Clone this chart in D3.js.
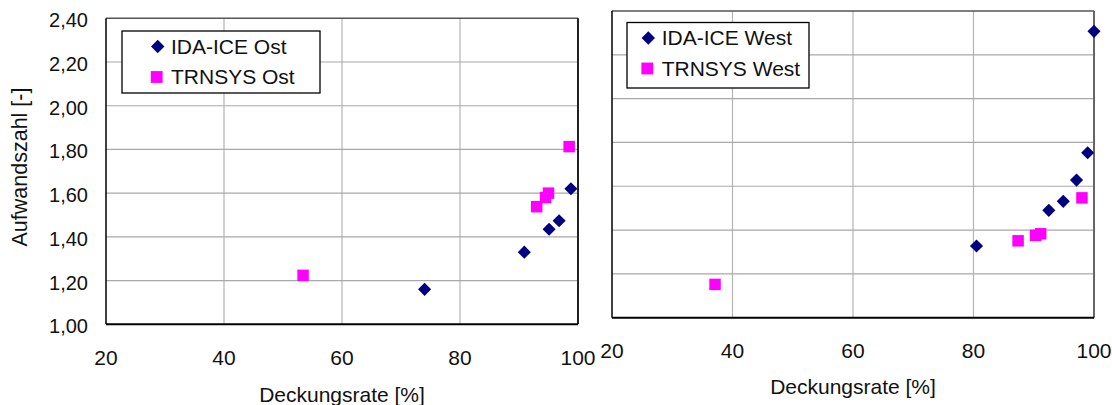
<!DOCTYPE html>
<html>
<head>
<meta charset="utf-8">
<script src="https://cdn.jsdelivr.net/npm/d3@7"></script>
<style>
	body { margin: 0; background: #fff; }
	svg { display: block; font-family: 'Liberation Sans', Arial, sans-serif; }
</style>
</head>
<body>
<div id="chart"></div>
<script>

// tick values
var xTicks = [20, 40, 60, 80, 100];
var yTicks = [1.0, 1.2, 1.4, 1.6, 1.8, 2.0, 2.2, 2.4];

// Ost (left panel): [Deckungsrate %, Aufwandszahl]
var idaOst = [[74.0, 1.16], [90.9, 1.33], [95.1, 1.435], [96.8, 1.474], [98.8, 1.62]];
var trnOst = [[53.4, 1.224], [93.0, 1.538], [94.5, 1.58], [95.0, 1.60], [98.5, 1.813]];

// West (right panel)
var idaWest = [[80.5, 1.327], [92.5, 1.49], [94.9, 1.531], [97.1, 1.628], [98.95, 1.753], [100, 2.307]];
var trnWest = [[37.1, 1.152], [87.4, 1.351], [90.3, 1.376], [91.15, 1.383], [98.0, 1.547]];

var seriesNames = {
	ost: ['IDA-ICE Ost', 'TRNSYS Ost'],
	west: ['IDA-ICE West', 'TRNSYS West']
};

var colors = { ida: '#000080', trn: '#ff00ff' };

var svg = d3.select('#chart').append('svg')
	.attr('width', 1112)
	.attr('height', 405);

var fmt = function (v) { return d3.format('.2f')(v).replace('.', ','); };

var diamond = d3.symbol().type(d3.symbolSquare).size(86);
var square = d3.symbol().type(d3.symbolSquare).size(132);

function drawPanel(cfg) {

	var x = d3.scaleLinear().domain([20, 100]).range([cfg.left, cfg.right]);
	var y = d3.scaleLinear().domain([1.0, 2.4]).range([cfg.bottom, cfg.top]);

	var g = svg.append('g');

	// grid
	g.selectAll('.vgrid')
		.data(xTicks.slice(1, -1))
		.enter().append('line')
		.attr('x1', function (d) { return x(d); })
		.attr('x2', function (d) { return x(d); })
		.attr('y1', cfg.top)
		.attr('y2', cfg.bottom)
		.attr('stroke', '#b4b4b4')
		.attr('stroke-width', 1.2);

	g.selectAll('.hgrid')
		.data(yTicks.slice(1, -1))
		.enter().append('line')
		.attr('x1', cfg.left)
		.attr('x2', cfg.right)
		.attr('y1', function (d) { return y(d); })
		.attr('y2', function (d) { return y(d); })
		.attr('stroke', '#a8a8a8')
		.attr('stroke-width', 1.2);

	// frame
	g.append('line')
		.attr('x1', cfg.left).attr('x2', cfg.right)
		.attr('y1', cfg.top).attr('y2', cfg.top)
		.attr('stroke', '#555').attr('stroke-width', 1.5);
	g.append('line')
		.attr('x1', cfg.right).attr('x2', cfg.right)
		.attr('y1', cfg.top).attr('y2', cfg.bottom)
		.attr('stroke', cfg.rightColor).attr('stroke-width', 2);
	g.append('line')
		.attr('x1', cfg.left).attr('x2', cfg.left)
		.attr('y1', cfg.top).attr('y2', cfg.bottom)
		.attr('stroke', '#000').attr('stroke-width', 1.5);
	g.append('line')
		.attr('x1', cfg.left).attr('x2', cfg.right)
		.attr('y1', cfg.bottom).attr('y2', cfg.bottom)
		.attr('stroke', '#000').attr('stroke-width', 2);

	// x tick labels
	g.selectAll('.xlab')
		.data(xTicks)
		.enter().append('text')
		.attr('x', function (d) { return x(d); })
		.attr('y', cfg.xLabelY)
		.attr('text-anchor', 'middle')
		.attr('font-size', 21)
		.attr('fill', '#111')
		.text(function (d) { return d; });

	// y tick labels (left panel only)
	if (cfg.yLabels) {
		g.selectAll('.ylab')
			.data(yTicks)
			.enter().append('text')
			.attr('x', 88)
			.attr('y', function (d) { return y(d) + 2; })
			.attr('dy', '0.35em')
			.attr('text-anchor', 'end')
			.attr('font-size', 20)
			.attr('fill', '#111')
			.text(fmt);

		g.append('text')
			.attr('transform', 'translate(27,' + 167 + ') rotate(-90)')
			.attr('text-anchor', 'middle')
			.attr('font-size', 21.5)
			.attr('fill', '#111')
			.text('Aufwandszahl [-]');
	}

	// x axis title
	g.append('text')
		.attr('x', (cfg.left + cfg.right) / 2)
		.attr('y', cfg.titleY)
		.attr('text-anchor', 'middle')
		.attr('font-size', 21)
		.attr('fill', '#111')
		.text('Deckungsrate [%]');

	// points
	g.selectAll('.trn')
		.data(cfg.trn)
		.enter().append('path')
		.attr('d', square)
		.attr('transform', function (d) { return 'translate(' + x(d[0]) + ',' + y(d[1]) + ')'; })
		.attr('fill', colors.trn);

	g.selectAll('.ida')
		.data(cfg.ida)
		.enter().append('path')
		.attr('d', diamond)
		.attr('transform', function (d) { return 'translate(' + x(d[0]) + ',' + y(d[1]) + ') rotate(45)'; })
		.attr('fill', colors.ida);

	// legend
	var lg = cfg.legend;
	g.append('rect')
		.attr('x', lg.x).attr('y', lg.y)
		.attr('width', lg.w).attr('height', lg.h)
		.attr('fill', '#fff')
		.attr('stroke', '#000')
		.attr('stroke-width', 1.3);

	g.append('path')
		.attr('d', d3.symbol().type(d3.symbolSquare).size(90))
		.attr('transform', 'translate(' + lg.mx + ',' + (lg.y + 15.5) + ') rotate(45)')
		.attr('fill', colors.ida);
	g.append('path')
		.attr('d', d3.symbol().type(d3.symbolSquare).size(140))
		.attr('transform', 'translate(' + (lg.mx - 1) + ',' + (lg.y + 46) + ')')
		.attr('fill', colors.trn);

	g.selectAll('.legtext')
		.data(cfg.names)
		.enter().append('text')
		.attr('x', lg.tx)
		.attr('y', function (d, i) { return lg.y + 22.5 + i * 30.7; })
		.attr('font-size', 21)
		.attr('fill', '#111')
		.text(function (d) { return d; });
}

drawPanel({
	left: 106, right: 578, top: 18.3, bottom: 324.3,
	rightColor: '#222',
	xLabelY: 365, titleY: 402,
	yLabels: true,
	ida: idaOst, trn: trnOst,
	names: seriesNames.ost,
	legend: { x: 122, y: 31, w: 198, h: 62, mx: 157.7, tx: 171 }
});

drawPanel({
	left: 612, right: 1094, top: 11, bottom: 317.7,
	rightColor: '#666',
	xLabelY: 358, titleY: 394,
	yLabels: false,
	ida: idaWest, trn: trnWest,
	names: seriesNames.west,
	legend: { x: 627, y: 22.5, w: 182, h: 65.5, mx: 648.3, tx: 661.7 }
});

</script>
</body>
</html>
